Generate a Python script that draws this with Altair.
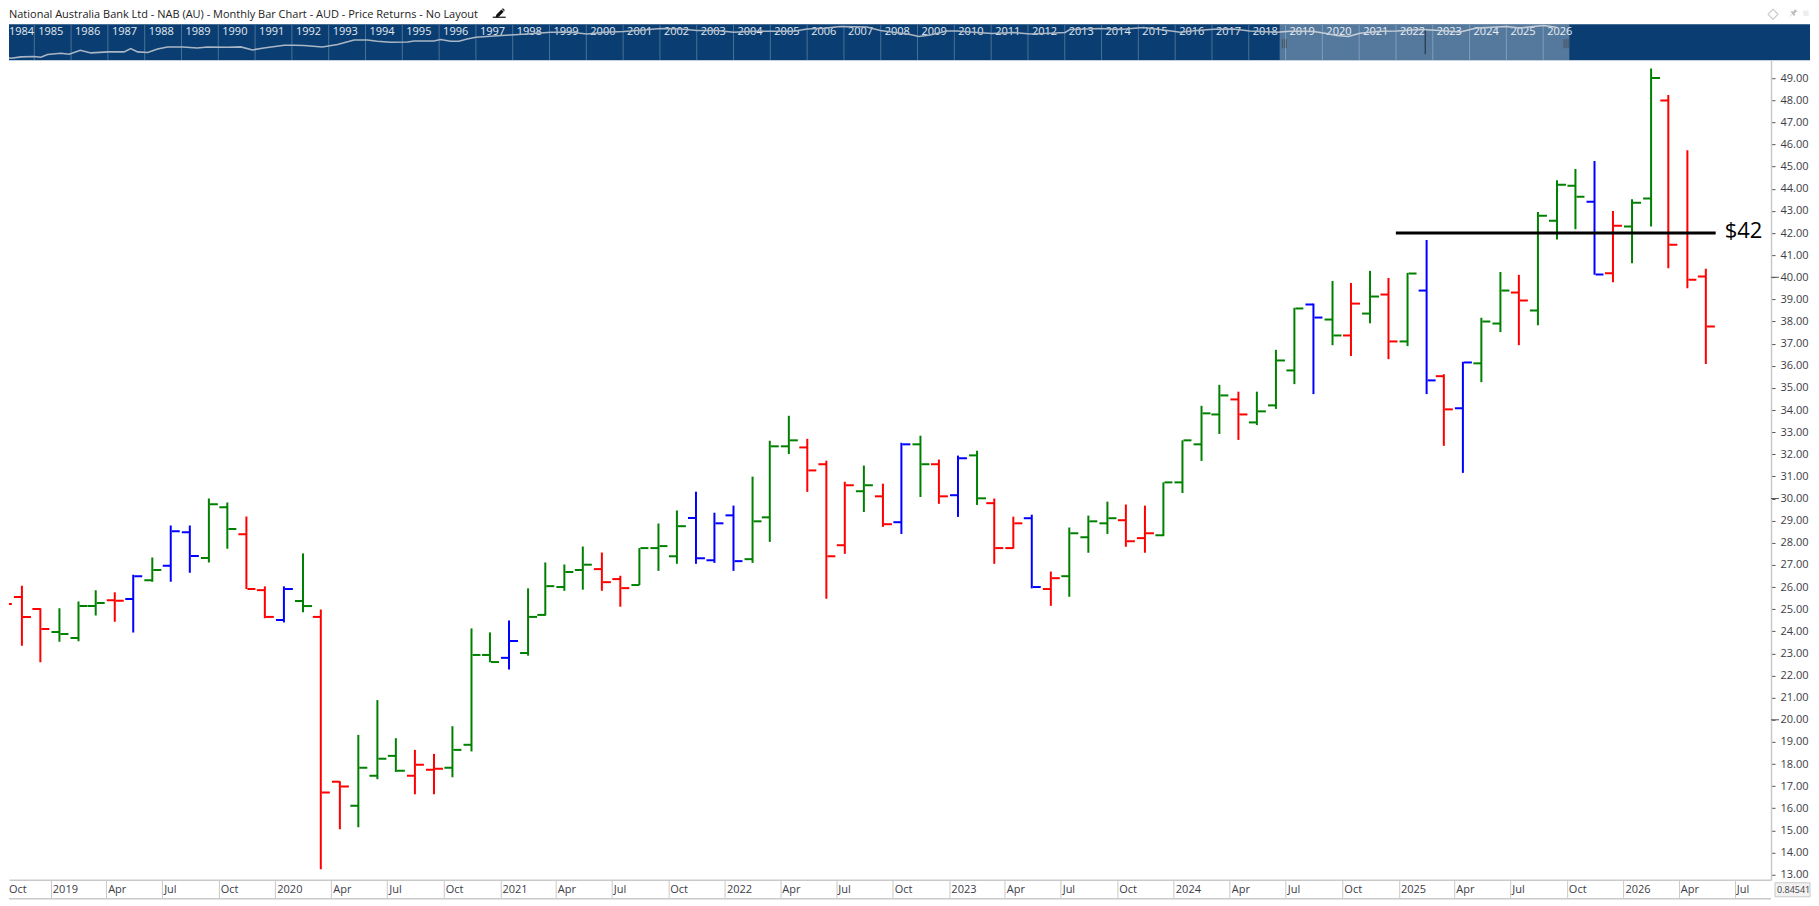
import pandas as pd
import altair as alt

# monthly bars
months = [
    "2018-10", "2018-11", "2018-12",
    "2019-01", "2019-02", "2019-03", "2019-04", "2019-05", "2019-06", "2019-07", "2019-08", "2019-09", "2019-10", "2019-11", "2019-12",
    "2020-01", "2020-02", "2020-03", "2020-04", "2020-05", "2020-06", "2020-07", "2020-08", "2020-09", "2020-10", "2020-11", "2020-12",
    "2021-01", "2021-02", "2021-03", "2021-04", "2021-05", "2021-06", "2021-07", "2021-08", "2021-09", "2021-10", "2021-11", "2021-12",
    "2022-01", "2022-02", "2022-03", "2022-04", "2022-05", "2022-06", "2022-07", "2022-08", "2022-09", "2022-10", "2022-11", "2022-12",
    "2023-01", "2023-02", "2023-03", "2023-04", "2023-05", "2023-06", "2023-07", "2023-08", "2023-09", "2023-10", "2023-11", "2023-12",
    "2024-01", "2024-02", "2024-03", "2024-04", "2024-05", "2024-06", "2024-07", "2024-08", "2024-09", "2024-10", "2024-11", "2024-12",
    "2025-01", "2025-02", "2025-03", "2025-04", "2025-05", "2025-06", "2025-07", "2025-08", "2025-09", "2025-10", "2025-11", "2025-12",
    "2026-01", "2026-02", "2026-03", "2026-04", "2026-05",
]
opens = [
    27.71, 25.55, 25.01,
    23.97, 23.70, 25.14, 25.40, 25.46, 26.31, 26.96, 28.48, 27.31, 29.61, 28.39, 25.86,
    24.51, 25.37, 24.65, 17.20, 16.12, 17.47, 18.37, 17.47, 17.74, 17.83, 18.87, 22.93,
    22.80, 23.02, 24.74, 26.00, 26.77, 26.81, 26.36, 26.09, 27.76, 27.39, 29.12, 27.21,
    29.24, 27.26, 29.15, 32.36, 32.31, 31.55, 27.89, 30.33, 30.10, 28.93, 32.45, 31.55,
    30.15, 31.95, 29.79, 27.76, 29.11, 25.91, 26.49, 28.25, 28.88, 29.02, 28.21, 28.34,
    30.73, 32.45, 33.80, 34.48, 33.44, 34.21, 35.79, 38.77, 38.09, 37.37, 38.36, 39.22,
    37.10, 39.40, 35.53, 34.08, 36.11, 37.91, 39.31, 38.50, 42.56, 44.14, 43.41, 40.18,
    42.29, 43.56, 47.99, 42.00, 40.03,
]
highs = [
    27.76, 26.06, 25.04,
    25.04, 25.35, 25.85, 25.76, 26.55, 27.34, 28.78, 28.78, 30.00, 29.82, 29.19, 26.03,
    26.03, 27.52, 24.99, 17.22, 19.32, 20.89, 19.17, 18.64, 18.46, 19.71, 24.13, 23.95,
    24.49, 25.94, 27.11, 27.02, 27.83, 27.56, 26.51, 27.76, 28.87, 29.46, 30.31, 29.36,
    29.68, 30.99, 32.61, 33.74, 32.70, 31.71, 30.76, 31.49, 30.67, 32.52, 32.84, 31.76,
    31.94, 32.16, 30.00, 29.18, 29.27, 26.70, 28.69, 29.23, 29.86, 29.73, 29.68, 30.73,
    32.63, 34.19, 35.14, 34.83, 34.83, 36.72, 38.62, 38.81, 39.83, 39.74, 40.29, 39.97,
    40.20, 41.68, 35.62, 36.18, 38.17, 40.24, 40.11, 42.95, 44.39, 44.89, 45.26, 42.99,
    43.53, 49.44, 48.24, 45.74, 40.38,
]
lows = [
    24.59, 23.35, 22.60,
    23.53, 23.55, 24.71, 24.43, 23.94, 26.24, 26.24, 26.65, 27.11, 27.73, 25.91, 24.59,
    24.40, 24.86, 13.25, 15.05, 15.14, 17.31, 17.64, 16.63, 16.63, 17.40, 18.57, 22.60,
    22.27, 22.90, 24.71, 25.83, 25.88, 25.83, 25.11, 26.09, 26.73, 27.05, 27.05, 27.09,
    26.73, 27.09, 28.04, 32.01, 30.30, 25.47, 27.50, 29.39, 28.72, 28.40, 30.07, 29.76,
    29.17, 29.71, 27.05, 27.74, 25.94, 25.15, 25.56, 27.55, 28.40, 27.82, 27.55, 28.30,
    30.25, 31.70, 32.92, 32.65, 33.32, 34.05, 35.17, 34.72, 36.93, 36.44, 37.92, 36.30,
    36.89, 34.72, 32.38, 31.16, 35.26, 37.52, 36.93, 37.83, 41.71, 42.17, 40.11, 39.77,
    40.63, 42.30, 40.41, 39.50, 36.08,
]
closes = [
    25.23, 24.65, 24.10,
    23.88, 25.14, 25.28, 25.38, 26.49, 26.77, 28.52, 27.40, 29.74, 28.62, 25.91, 24.65,
    25.91, 25.14, 16.71, 16.98, 17.83, 18.24, 17.70, 17.97, 17.79, 18.64, 22.93, 22.61,
    23.56, 24.65, 26.04, 26.68, 27.01, 26.22, 25.95, 27.76, 27.85, 28.75, 27.30, 28.88,
    27.17, 28.97, 32.36, 32.63, 31.27, 27.39, 30.60, 30.60, 28.84, 32.45, 31.55, 30.10,
    31.82, 30.01, 27.76, 28.88, 26.00, 26.40, 28.43, 28.97, 29.11, 28.07, 28.43, 30.73,
    32.63, 33.85, 34.66, 33.80, 33.94, 36.24, 38.59, 38.18, 37.37, 38.81, 39.13, 37.10,
    40.17, 35.34, 34.03, 36.15, 38.00, 39.40, 38.95, 42.78, 44.18, 43.64, 40.12, 42.33,
    43.37, 49.01, 41.47, 39.89, 37.77,
]
# u = up, d = down, o = outside month, one string per year
states = list(
    "ddd"
    "uuudouoouudd"
    "oudduuudduuu"
    "ouuuudduuuoo"
    "ouuudddudoud"
    "ouddoduuuddu"
    "uuuduuuoudud"
    "uodouuduuuod"
    "uuddd"
)

tick_months = [f"{y}-{m}" for y in range(2019, 2027) for m in ("01", "04", "07", "10")][:-1]
y_ticks = list(range(13, 50))
long_ticks = [20, 30, 40]

level_price = 42
level_from = "2024-12-27"
level_to = "2026-05-31"
level_label = "$42"

title_text = "National Australia Bank Ltd - NAB (AU) - Monthly Bar Chart - AUD - Price Returns - No Layout"
fx_text = "0.84541"

# navigator strip along the top
nav_labels = list(range(1985, 2027))
nav_years = [
    1984.10, 1984.37, 1984.64, 1985.00, 1985.18, 1985.36, 1985.72, 1985.95, 1986.25, 1986.54, 1987.01, 1987.44,
    1987.62, 1987.81, 1988.08, 1988.35, 1988.62, 1989.03, 1989.43, 1989.71, 1990.25, 1990.61, 1990.93, 1991.24,
    1991.79, 1992.06, 1992.33, 1992.83, 1993.24, 1993.69, 1994.05, 1994.32, 1994.68, 1995.14, 1995.32, 1995.86,
    1996.04, 1996.31, 1996.54, 1996.76, 1997.00, 1997.49, 1997.94, 1998.39, 1999.03, 1999.57, 2000.02, 2000.48,
    2001.02, 2001.47, 2002.01, 2002.56, 2003.01, 2003.55, 2004.00, 2004.55, 2005.00, 2005.63, 2006.00, 2006.45,
    2006.90, 2007.62, 2007.99, 2008.35, 2008.80, 2009.03, 2009.34, 2009.80, 2010.07, 2010.52, 2011.02, 2011.61,
    2012.06, 2012.60, 2013.01, 2013.14, 2013.96, 2014.50, 2015.14, 2015.95, 2016.13, 2016.58, 2017.04, 2017.58,
    2018.03, 2018.76, 2019.12, 2019.39, 2019.76, 2020.07, 2020.39, 2020.71, 2021.02, 2021.57, 2022.02, 2022.65,
    2023.10, 2023.74, 2024.19, 2025.00, 2025.37, 2026.00, 2026.36,
]
nav_levels = [
    3.7, 2.0, 3.3, 3.7, 3.0, 5.7, 7.0, 6.0, 10.0, 7.3, 8.3, 8.3,
    11.7, 8.3, 7.7, 11.3, 13.3, 13.3, 12.3, 13.3, 13.0, 13.3, 10.3, 12.3,
    15.0, 15.0, 14.7, 13.3, 15.7, 20.3, 20.3, 19.0, 18.0, 18.3, 19.3, 19.3,
    20.7, 19.0, 19.0, 21.3, 23.0, 24.3, 25.3, 26.3, 28.0, 28.0, 26.3, 28.0,
    28.7, 30.0, 31.7, 31.3, 29.7, 29.7, 28.0, 29.0, 29.0, 29.0, 31.3, 32.0,
    33.7, 33.3, 29.7, 28.0, 25.7, 23.7, 25.3, 29.3, 29.3, 28.0, 26.7, 27.7,
    26.3, 27.0, 27.7, 30.7, 31.7, 30.7, 32.7, 29.0, 28.0, 29.7, 31.0, 31.3,
    29.3, 28.0, 29.0, 29.0, 28.7, 27.0, 24.7, 23.7, 27.0, 29.0, 29.3, 30.7,
    30.0, 28.3, 32.3, 33.7, 32.3, 34.7, 33.0,
]
window_from = 2018.84
window_to = 2026.71
nav_from = 1984.313
nav_to = 2033.25

FONT = "Open Sans"
TEXT_COLOR = "#3c3c46"
LINE_COLOR = "#c9c9c9"
NAVY = "#0a3e72"
PIN = "M-0.9,0.9 L-0.15,0.05 L-0.5,-0.3 L-0.2,-0.45 L0.05,-0.3 L0.35,-0.75 L0.2,-0.95 L0.95,-0.3 L0.7,-0.3 L0.3,0.05 L0.45,0.35 L0.2,0.55 L-0.1,0.2 Z"
PENCIL = "M-0.85,0.85 L-0.65,0.25 L0.35,-0.75 L0.8,-0.3 L-0.2,0.7 Z M0.45,-0.85 L0.65,-1 L1,-0.65 L0.9,-0.4 Z"

W = 1763
H = 820


def dt(text):
    return alt.DateTime(year=int(text[:4]), month=int(text[5:7]), date=int(text[8:10]) if len(text) > 7 else 1)


bars = pd.DataFrame({"month": months, "open": opens, "high": highs, "low": lows, "close": closes, "state": states})
bars["date"] = pd.to_datetime(bars["month"] + "-15").dt.strftime("%Y-%m-%dT00:00:00")

x_scale = alt.Scale(domain=[dt("2018-10-25"), dt("2026-08-29")])
y_scale = alt.Scale(domain=[12.77, 49.81], nice=False, zero=False)
state_scale = alt.Scale(domain=["u", "d", "o"], range=["#008000", "#ff0000", "#0000ff"])

month_label = "timeFormat(datum.value, '%m') == '01' ? timeFormat(datum.value, '%Y') : timeFormat(datum.value, '%b')"

x_axis = alt.Axis(
    values=[dt(m) for m in tick_months], labelExpr=month_label, grid=False, title=None,
    tickSize=18, tickColor=LINE_COLOR, domainColor=LINE_COLOR, domainWidth=1.5, tickWidth=1,
    labelAlign="left", labelBaseline="middle", labelPadding=-8, labelOffset=1.5,
    labelFont=FONT, labelFontSize=11, labelColor=TEXT_COLOR, labelOverlap=False, labelFlush=False,
)
y_axis = alt.Axis(
    values=y_ticks, format=".2f", orient="right", grid=False, title=None,
    tickSize=4, tickColor="#555555", domainColor=LINE_COLOR, domainWidth=1.5,
    labelPadding=5, labelFont=FONT, labelFontSize=11, labelColor=TEXT_COLOR, labelOverlap=False,
)
color_enc = alt.Color("state:N", scale=state_scale, legend=None)


def main_x(field):
    return alt.X(field, scale=x_scale, axis=x_axis)


def main_y(field):
    return alt.Y(field, scale=y_scale, axis=y_axis)


base = alt.Chart(bars)
stems = base.mark_rule(strokeWidth=2, clip=True).encode(
    x=main_x("date:T"), y=main_y("low:Q"), y2="high:Q", color=color_enc
)
open_ticks = base.mark_tick(orient="horizontal", size=8, thickness=2, xOffset=-4, opacity=1, clip=True).encode(
    x=main_x("date:T"), y=main_y("open:Q"), color=color_enc
)
close_ticks = base.mark_tick(orient="horizontal", size=8, thickness=2, xOffset=5, opacity=1, clip=True).encode(
    x=main_x("date:T"), y=main_y("close:Q"), color=color_enc
)

level = pd.DataFrame({"start": [level_from + "T00:00:00"], "end": [level_to + "T00:00:00"], "price": [level_price], "label": [level_label]})
level_line = alt.Chart(level).mark_rule(color="black", strokeWidth=3).encode(
    x=main_x("start:T"), x2="end:T", y=main_y("price:Q")
)
level_text = alt.Chart(level).mark_text(align="left", baseline="middle", dx=9, dy=-2, fontSize=22, font=FONT, color="black").encode(
    x=main_x("end:T"), y=main_y("price:Q"), text="label:N"
)

long_tick_marks = alt.Chart(pd.DataFrame({"price": long_ticks})).mark_rule(color="#555555", strokeWidth=1, clip=False).encode(
    y=main_y("price:Q"), x=alt.value(W), x2=alt.value(W + 8)
)

one_row = pd.DataFrame({"a": [0]})
bottom_line = alt.Chart(one_row).mark_rule(color=LINE_COLOR, strokeWidth=1.5, clip=False).encode(
    x=alt.value(0), x2=alt.value(W), y=alt.value(H + 19)
)
fx_box = alt.Chart(one_row).mark_rect(fill="#f2f2f2", stroke=LINE_COLOR, strokeWidth=1, clip=False).encode(
    x=alt.value(W + 4), x2=alt.value(W + 39), y=alt.value(H + 3), y2=alt.value(H + 17)
)
fx_label = alt.Chart(pd.DataFrame({"a": [fx_text]})).mark_text(align="left", baseline="middle", font=FONT, fontSize=9, color=TEXT_COLOR, clip=False).encode(
    x=alt.value(W + 6), y=alt.value(H + 10), text="a:N"
)
first_month = alt.Chart(pd.DataFrame({"a": ["Oct"]})).mark_text(align="left", baseline="middle", font=FONT, fontSize=11, color=TEXT_COLOR, clip=False).encode(
    x=alt.value(0), y=alt.value(H + 10), text="a:N"
)

main = alt.layer(
    stems, open_ticks, close_ticks, level_line, level_text, long_tick_marks, bottom_line, fx_box, fx_label, first_month
).properties(width=W, height=H)

# navigator
NW = 1802
nx = alt.Scale(domain=[nav_from, nav_to], nice=False, zero=False)
ny = alt.Scale(domain=[0, 36], nice=False, zero=False)
nav_x = alt.X("year:Q", scale=nx, axis=None)

band = alt.Chart(pd.DataFrame({"a": [nav_from], "b": [nav_to]})).mark_rect(color=NAVY).encode(
    x=alt.X("a:Q", scale=nx, axis=None), x2="b:Q"
)
year_frame = pd.DataFrame({"year": nav_labels, "label": [str(v) for v in nav_labels]})
year_ticks = alt.Chart(year_frame).mark_rule(color="#4a7099", strokeWidth=1, clip=True).encode(x=nav_x)
year_text = alt.Chart(year_frame).mark_text(align="left", baseline="middle", dx=4, font=FONT, fontSize=11, color="#e3e9f0", clip=True).encode(
    x=nav_x, y=alt.value(7.5), text="label:N"
)
first_year = alt.Chart(pd.DataFrame({"a": ["1984"]})).mark_text(align="left", baseline="middle", font=FONT, fontSize=11, color="#e3e9f0").encode(
    x=alt.value(0), y=alt.value(7.5), text="a:N"
)
nav_line = alt.Chart(pd.DataFrame({"year": nav_years, "level": nav_levels})).mark_line(color="#aab6c4", strokeWidth=1.6, clip=True).encode(
    x=nav_x, y=alt.Y("level:Q", scale=ny, axis=None)
)
window = alt.Chart(pd.DataFrame({"a": [window_from], "b": [window_to]})).mark_rect(color="white", opacity=0.31).encode(
    x=alt.X("a:Q", scale=nx, axis=None), x2="b:Q"
)


def v_rule(px, top, bottom, color):
    return alt.Chart(one_row).mark_rule(color=color, strokeWidth=1, clip=False).encode(
        x=alt.value(px), y=alt.value(top), y2=alt.value(bottom)
    )


grips = [v_rule(px, 15, 24, "#4a5260") for px in (1274, 1276, 1278, 1556, 1558, 1560)]
center_grip = v_rule(1417, 6, 30, "#1d2a3a")


def icon(px, py, **mark):
    return alt.Chart(one_row).mark_point(clip=False, **mark).encode(x=alt.value(px), y=alt.value(py))


title_mark = alt.Chart(pd.DataFrame({"a": [title_text]})).mark_text(
    align="left", baseline="middle", font=FONT, fontSize=11, color="#222222", clip=False
).encode(x=alt.value(0), y=alt.value(-9.5), text="a:N")
pencil = icon(491, -11, shape=PENCIL, size=100, filled=True, color="#111111", opacity=1)
pencil_line = alt.Chart(one_row).mark_rule(color="#111111", strokeWidth=1.2, clip=False).encode(
    x=alt.value(484), x2=alt.value(497), y=alt.value(-7)
)
diamond = icon(1765, -10, shape="diamond", size=100, filled=False, color="#cfcfcf", strokeWidth=1.2, strokeJoin="round", opacity=1)
pin = icon(1785, -11, shape=PIN, size=100, filled=True, color="#bdbdbd", opacity=1)
faint = icon(1798, -11, shape="square", size=30, filled=True, color="#eeeeee", opacity=1)

nav = alt.layer(
    band, year_ticks, year_text, first_year, nav_line, window, *grips, center_grip,
    title_mark, pencil, pencil_line, diamond, pin, faint
).properties(width=NW, height=36)

chart = alt.vconcat(nav, main, spacing=0).properties(padding=0, background="white").configure_view(strokeWidth=0)

chart.save("out.html", embed_options={"renderer": "svg", "actions": False})
